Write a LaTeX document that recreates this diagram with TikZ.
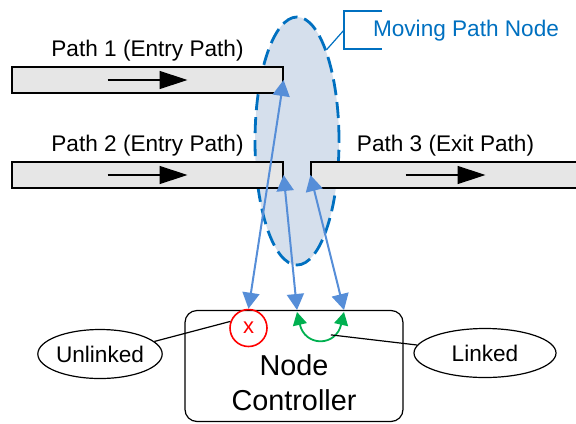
\documentclass[tikz,border=0pt]{standalone}
\usepackage{fontspec}
\setmainfont{Liberation Sans}
\definecolor{pathgray}{RGB}{230,230,230}
\definecolor{mpnfill}{RGB}{213,223,236}
\definecolor{mpnblue}{RGB}{0,112,192}
\definecolor{linkblue}{RGB}{86,142,216}
\definecolor{okgreen}{RGB}{0,176,80}
\usetikzlibrary{arrows.meta,positioning,shapes.geometric,calc}
\tikzset{
  pathbar/.style={draw,fill=pathgray,line width=0.6pt,minimum height=13pt,inner sep=0pt},
  pathlabel/.style={font=\fontsize{11.3}{13}\selectfont,inner sep=2pt},
  flow/.style={-{Triangle[length=14pt,width=9pt]},line width=0.7pt},
  link/.style={{Triangle[length=8pt,width=8.5pt]}-{Triangle[length=8pt,width=8.5pt]},linkblue,line width=1pt},
  tagoval/.style={draw,ellipse,line width=0.6pt,inner sep=0pt,minimum height=24.5pt,font=\fontsize{11.3}{13}\selectfont},
}

\begin{document}
\begin{tikzpicture}[x=0.5pt,y=-0.5pt]
  \useasboundingbox (0,0) rectangle (576,423);
  % moving path node
  \node[ellipse,fill=mpnfill,draw=mpnblue,line width=1.4pt,dash pattern=on 8pt off 3.5pt,minimum width=42pt,minimum height=124pt,inner sep=0pt] (mpn) at (297,141) {};
  % entry and exit paths
  \node[pathbar,minimum width=135.5pt] (bar1) at (147.5,80) {};
  \node[pathbar,minimum width=135.5pt] (bar2) at (147.5,175) {};
  \node[pathbar,minimum width=134.5pt] (bar3) at (445.5,175) {};
  \node[pathlabel,above=0.5pt of bar1] (lab1) {Path 1 (Entry Path)};
  \node[pathlabel,above=0.5pt of bar2] (lab2) {Path 2 (Entry Path)};
  \node[pathlabel,above=0.5pt of bar3] (lab3) {Path 3 (Exit Path)};
  \draw[flow] ([xshift=-20pt]bar1.center) -- ([xshift=20pt]bar1.center);
  \draw[flow] ([xshift=-20pt]bar2.center) -- ([xshift=20pt]bar2.center);
  \draw[flow] ([xshift=-20pt]bar3.center) -- ([xshift=20pt]bar3.center);
  % callout
  \node[pathlabel,text=mpnblue] (mpnlab) at (466,31) {Moving Path Node};
  \coordinate (brk) at (344,30);
  \draw[mpnblue,line width=0.6pt] ([shift={(38,-19)}]brk) -- ++(-38,0) -- ++(0,38) -- ++(38,0);
  \draw[mpnblue,line width=0.6pt] (brk) -- (mpn.72);
  % controller
  \node[draw,rounded corners=6pt,line width=0.6pt,minimum width=109pt,minimum height=55.5pt] (ctrl) at (294,366) {};
  \node[font=\fontsize{14.4}{17.5}\selectfont,align=center] (ctrltxt) at (294,383) {Node\\Controller};
  \node[circle,draw=red,text=red,line width=0.8pt,minimum size=18.5pt,inner sep=0pt,font=\fontsize{11}{13}\selectfont] (xmark) at (248.5,328) {x};
  \coordinate (lk1) at (297,310);
  \coordinate (lk2) at (344,310);
  % links to the moving node
  \draw[link] (bar1.east) -- (xmark.north);
  \draw[link] (bar2.east) -- (lk1);
  \draw[link] (bar3.west) -- (lk2);
  \draw[{Triangle[length=6.5pt,width=7pt]}-{Triangle[length=6.5pt,width=7pt]},okgreen,line width=0.9pt]
    ([yshift=-1pt]lk1) .. controls +(8,35) and +(-8,35) .. ([yshift=-1pt]lk2) coordinate[pos=0.68] (arcpt);
  % state tags
  \node[tagoval,minimum width=61pt] (unlinked) at (100,354) {Unlinked};
  \node[tagoval,minimum width=71pt] (linked) at (485,353) {Linked};
  \draw[line width=0.6pt] (unlinked.13) -- (xmark.160);
  \draw[line width=0.6pt] (linked) -- (arcpt);
\end{tikzpicture}
\end{document}
